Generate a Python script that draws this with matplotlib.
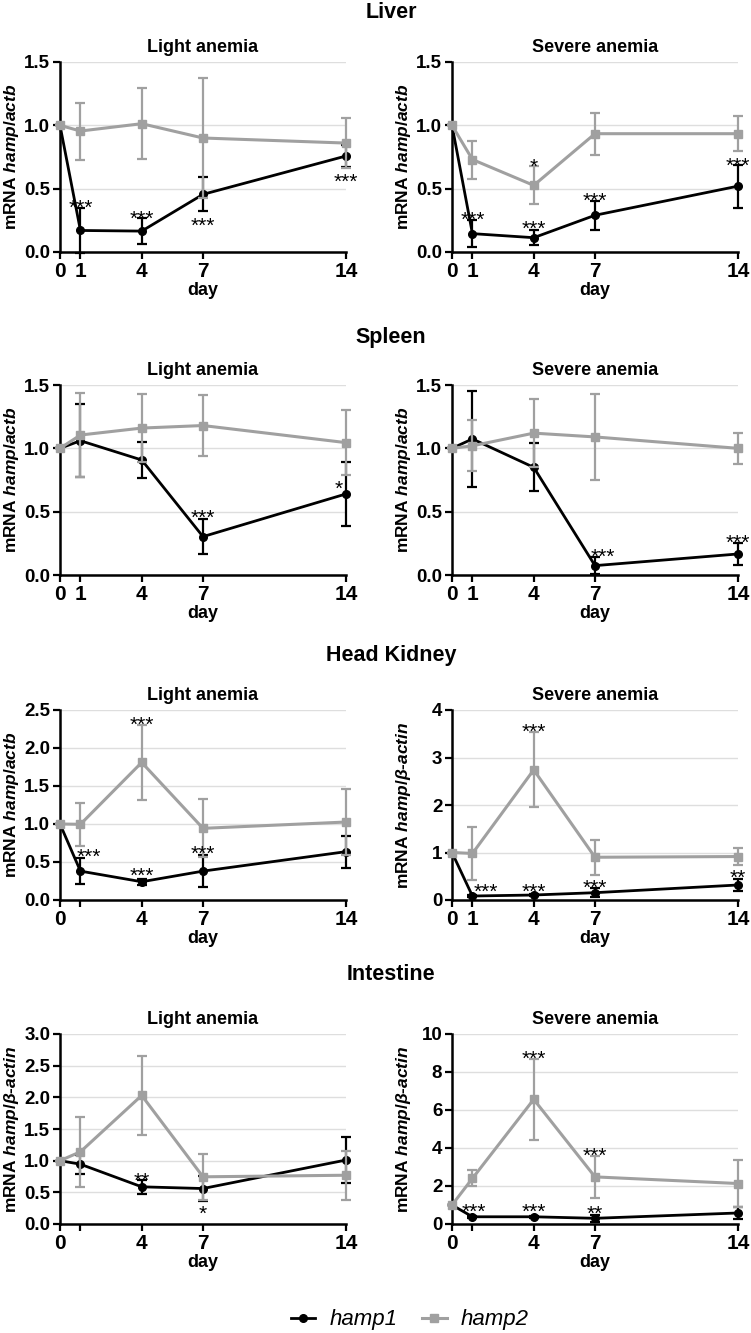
import matplotlib.pyplot as plt
from matplotlib.ticker import FormatStrFormatter
from matplotlib.lines import Line2D

plt.rcParams["font.family"] = ["Liberation Sans", "DejaVu Sans"]
plt.rcParams["mathtext.fontset"] = "custom"
plt.rcParams["mathtext.it"] = "Liberation Sans:italic:bold"
plt.rcParams["mathtext.rm"] = "Liberation Sans:bold"

days = [0, 1, 4, 7, 14]

# Liver
liver_light_h1 = [1.0, 0.17, 0.165, 0.455, 0.758]
liver_light_h1_err = [0.0, 0.175, 0.10, 0.135, 0.09]
liver_light_h2 = [1.0, 0.955, 1.013, 0.90, 0.86]
liver_light_h2_err = [0.0, 0.225, 0.28, 0.47, 0.20]
liver_severe_h1 = [1.0, 0.145, 0.113, 0.29, 0.52]
liver_severe_h1_err = [0.0, 0.105, 0.06, 0.115, 0.17]
liver_severe_h2 = [1.0, 0.73, 0.526, 0.934, 0.934]
liver_severe_h2_err = [0.0, 0.15, 0.15, 0.165, 0.14]

# Spleen
spleen_light_h1 = [1.0, 1.06, 0.908, 0.303, 0.64]
spleen_light_h1_err = [0.0, 0.29, 0.14, 0.14, 0.25]
spleen_light_h2 = [1.0, 1.105, 1.16, 1.18, 1.045]
spleen_light_h2_err = [0.0, 0.33, 0.27, 0.24, 0.255]
spleen_severe_h1 = [1.0, 1.074, 0.85, 0.074, 0.166]
spleen_severe_h1_err = [0.0, 0.38, 0.19, 0.065, 0.085]
spleen_severe_h2 = [1.0, 1.02, 1.12, 1.09, 1.0]
spleen_severe_h2_err = [0.0, 0.20, 0.27, 0.34, 0.12]

# Head kidney
kidney_light_h1 = [1.0, 0.38, 0.24, 0.38, 0.636]
kidney_light_h1_err = [0.0, 0.17, 0.04, 0.21, 0.21]
kidney_light_h2 = [1.0, 0.996, 1.81, 0.943, 1.026]
kidney_light_h2_err = [0.0, 0.28, 0.49, 0.38, 0.44]
kidney_severe_h1 = [1.0, 0.084, 0.105, 0.154, 0.316]
kidney_severe_h1_err = [0.0, 0.02, 0.02, 0.10, 0.12]
kidney_severe_h2 = [1.0, 0.98, 2.74, 0.90, 0.915]
kidney_severe_h2_err = [0.0, 0.55, 0.79, 0.37, 0.18]

# Intestine
intestine_light_h1 = [1.0, 0.944, 0.587, 0.56, 1.01]
intestine_light_h1_err = [0.0, 0.15, 0.11, 0.20, 0.37]
intestine_light_h2 = [1.0, 1.14, 2.03, 0.745, 0.77]
intestine_light_h2_err = [0.0, 0.55, 0.62, 0.36, 0.39]
intestine_severe_h1 = [1.0, 0.38, 0.38, 0.30, 0.58]
intestine_severe_h1_err = [0.0, 0.05, 0.05, 0.20, 0.32]
intestine_severe_h2 = [1.0, 2.4, 6.56, 2.48, 2.13]
intestine_severe_h2_err = [0.0, 0.42, 2.12, 1.12, 1.23]

# significance marks: (day, value, label)
liver_light_sig = [(1, 0.395, "***"), (4, 0.31, "***"), (7, 0.255, "***"), (14, 0.60, "***")]
liver_severe_sig = [(1, 0.30, "***"), (4, 0.72, "*"), (4, 0.23, "***"), (7, 0.45, "***"), (14, 0.73, "***")]
spleen_light_sig = [(7, 0.50, "***"), (13.65, 0.726, "*")]
spleen_severe_sig = [(7.4, 0.19, "***"), (14, 0.297, "***")]
kidney_light_sig = [(1.4, 0.65, "***"), (4, 0.395, "***"), (4, 2.38, "***"), (7, 0.69, "***")]
kidney_severe_sig = [(1.65, 0.30, "***"), (4, 0.30, "***"), (4, 3.66, "***"), (7, 0.39, "***"), (14, 0.58, "**")]
intestine_light_sig = [(4, 0.77, "**"), (7, 0.25, "*")]
intestine_severe_sig = [(1.05, 0.93, "***"), (4, 0.93, "***"), (4, 9.0, "***"), (7, 3.88, "***"), (7, 0.82, "**")]

ylabel_actb = r"mRNA $hamp/actb$"
ylabel_bactin = r"mRNA $hamp/β$-$actin$"
xlabels_full = ["0", "1", "4", "7", "14"]
xlabels_short = ["0", "", "4", "7", "14"]

sections = ["Liver", "Spleen", "Head Kidney", "Intestine"]
section_y = [12, 337, 656, 975]

BLACK = "#000000"
GREY = "#a0a0a0"

panels = [
    # row, col, title, h1, e1, h2, e2, sig, ymax, ystep, fmt, ylabel, xlabels
    (0, 0, "Light anemia", liver_light_h1, liver_light_h1_err, liver_light_h2, liver_light_h2_err,
     liver_light_sig, 1.5, 0.5, "%.1f", ylabel_actb, xlabels_full),
    (0, 1, "Severe anemia", liver_severe_h1, liver_severe_h1_err, liver_severe_h2, liver_severe_h2_err,
     liver_severe_sig, 1.5, 0.5, "%.1f", ylabel_actb, xlabels_full),
    (1, 0, "Light anemia", spleen_light_h1, spleen_light_h1_err, spleen_light_h2, spleen_light_h2_err,
     spleen_light_sig, 1.5, 0.5, "%.1f", ylabel_actb, xlabels_full),
    (1, 1, "Severe anemia", spleen_severe_h1, spleen_severe_h1_err, spleen_severe_h2, spleen_severe_h2_err,
     spleen_severe_sig, 1.5, 0.5, "%.1f", ylabel_actb, xlabels_full),
    (2, 0, "Light anemia", kidney_light_h1, kidney_light_h1_err, kidney_light_h2, kidney_light_h2_err,
     kidney_light_sig, 2.5, 0.5, "%.1f", ylabel_actb, xlabels_short),
    (2, 1, "Severe anemia", kidney_severe_h1, kidney_severe_h1_err, kidney_severe_h2, kidney_severe_h2_err,
     kidney_severe_sig, 4, 1, "%d", ylabel_bactin, xlabels_full),
    (3, 0, "Light anemia", intestine_light_h1, intestine_light_h1_err, intestine_light_h2, intestine_light_h2_err,
     intestine_light_sig, 3.0, 0.5, "%.1f", ylabel_bactin, xlabels_short),
    (3, 1, "Severe anemia", intestine_severe_h1, intestine_severe_h1_err, intestine_severe_h2, intestine_severe_h2_err,
     intestine_severe_sig, 10, 2, "%d", ylabel_bactin, xlabels_short),
]

W, H = 751, 1333
fig = plt.figure(figsize=(W / 100, H / 100), dpi=100)

col_left = [60, 452]
row_top = [62, 385, 710, 1034]
ax_w, ax_h = 286, 190

STAR_FS = 15

for row, col, title, h1, e1, h2, e2, sig, ymax, ystep, fmt, ylabel, xlabels in panels:
    x0 = col_left[col]
    y0 = row_top[row]
    ax = fig.add_axes([x0 / W, 1 - (y0 + ax_h) / H, ax_w / W, ax_h / H])

    for vals, errs, color, marker, ms, lw, z in [
        (h1, e1, BLACK, "o", 5.5, 2.0, 3),
        (h2, e2, GREY, "s", 6, 2.2, 4),
    ]:
        cont = ax.errorbar(days, vals, yerr=errs, color=color, lw=lw, marker=marker, ms=ms,
                           capsize=3.5, elinewidth=1.6, capthick=1.6, zorder=z)
        for art in cont.get_children():
            art.set_clip_on(False)

    for x, y, s in sig:
        ax.annotate(s, (x, y), xytext=(0, -0.57 * STAR_FS), textcoords="offset points",
                    ha="center", va="baseline", fontsize=STAR_FS, zorder=6)

    ax.set_xlim(0, 14)
    ax.set_ylim(0, ymax)
    ticks = [i * ystep for i in range(int(round(ymax / ystep)) + 1)]
    ax.set_yticks(ticks)
    ax.yaxis.set_major_formatter(FormatStrFormatter(fmt))
    ax.set_xticks(days)
    ax.set_xticklabels(xlabels)
    ax.grid(axis="y", color="#dedede", lw=1.0)
    ax.set_axisbelow(True)
    for side in ["top", "right"]:
        ax.spines[side].set_visible(False)
    for side in ["left", "bottom"]:
        ax.spines[side].set_linewidth(1.8)
    ax.tick_params(axis="both", direction="out", length=5, width=1.6, pad=2)
    ax.tick_params(axis="y", labelsize=13.5)
    ax.tick_params(axis="x", labelsize=15)
    for lab in ax.get_xticklabels() + ax.get_yticklabels():
        lab.set_fontweight("bold")

    ax.set_title(title, fontsize=13, fontweight="bold", pad=7)
    ax.set_xlabel("day", fontsize=13, fontweight="bold", labelpad=1)
    ax.set_ylabel(ylabel, fontsize=12.5, fontweight="bold")
    ax.yaxis.set_label_coords(-0.138, 0.5)

for name, yc in zip(sections, section_y):
    fig.text(391 / W, 1 - yc / H, name, ha="center", va="center", fontsize=15.5, fontweight="bold")

handles = [
    Line2D([], [], color=BLACK, lw=2.0, marker="o", ms=5.5),
    Line2D([], [], color=GREY, lw=2.2, marker="s", ms=6),
]
fig.legend(handles, ["hamp1", "hamp2"], loc="center", bbox_to_anchor=(410 / W, 1 - 1320 / H),
           ncol=2, frameon=False, handlelength=1.1, columnspacing=1.1, handletextpad=0.65,
           prop={"style": "italic", "size": 16})

fig.savefig("out.png", dpi=100)
